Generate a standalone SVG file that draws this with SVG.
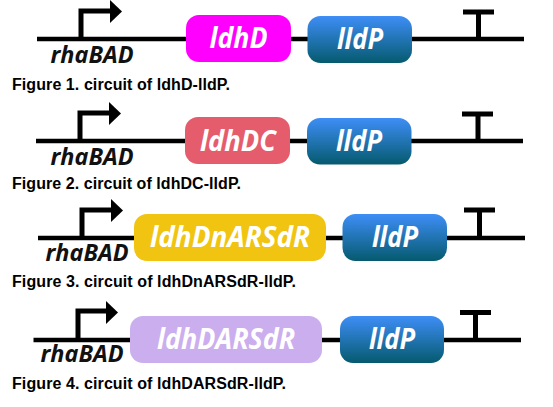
<svg xmlns="http://www.w3.org/2000/svg" width="553" height="407" viewBox="0 0 553 407">
<style>
.l{stroke:#000;stroke-width:4.5;fill:none}
.a{fill:#000}
.b{stroke:#000;stroke-width:5;fill:none}
.g{font:italic 700 28px "Open Sans",sans-serif;fill:#fff;text-anchor:middle}
.p{font:italic 700 23.500px "Open Sans",sans-serif;fill:#111;text-anchor:middle}
.c{font:700 16px "Liberation Sans",Arial,sans-serif;fill:#000}
.u{fill:url(#blue)}
</style>
<defs>
<linearGradient id="blue" x1="0" y1="0" x2="0" y2="1"><stop offset="0" stop-color="#3e8ef7"/><stop offset="1" stop-color="#055a6e"/></linearGradient>
</defs>
<g id="connectors">
<path class="l" d="M37 39H186M291 39H308M412 39H524"/>
<path class="l" d="M36 141H185M290 141H307M411 141H523"/>
<path class="l" d="M38 238H134M326 238H343M447 238H525"/>
<path class="l" d="M33.500 340H130M322 340H340M444 340H521"/>
</g>
<g id="promoter1"><path class="b" d="M81 39V11H111"/><path class="a" d="M110 0L122 11.500L110 23Z"/><text class="p" x="92" y="63" textLength="83" lengthAdjust="spacingAndGlyphs">rhaBAD</text></g>
<g id="ldhD"><rect x="186" y="15" width="105" height="47" rx="13" fill="#ff00ff"/><text class="g" x="238.500" y="48" textLength="58" lengthAdjust="spacingAndGlyphs">ldhD</text></g>
<g id="lldP1"><rect class="u" x="307.500" y="16" width="104.500" height="47" rx="13"/><text class="g" x="360" y="49" textLength="46" lengthAdjust="spacingAndGlyphs">lldP</text></g>
<g id="terminator1"><path class="b" d="M478.500 39V12M463 12H494"/></g>
<text class="c" x="12" y="90" textLength="218">Figure 1. circuit of ldhD-lldP.</text>
<g id="promoter2"><path class="b" d="M80 141V113H110"/><path class="a" d="M109 102L121 113.500L109 125Z"/><text class="p" x="92" y="165" textLength="83" lengthAdjust="spacingAndGlyphs">rhaBAD</text></g>
<g id="ldhDC"><rect x="185" y="117" width="105" height="47" rx="13" fill="#e55c6c"/><text class="g" x="238" y="151" textLength="76" lengthAdjust="spacingAndGlyphs">ldhDC</text></g>
<g id="lldP2"><rect class="u" x="307" y="118" width="104.500" height="46.500" rx="13"/><text class="g" x="359" y="151" textLength="46" lengthAdjust="spacingAndGlyphs">lldP</text></g>
<g id="terminator2"><path class="b" d="M478 141V114M462 114H493"/></g>
<text class="c" x="12" y="189" textLength="229">Figure 2. circuit of ldhDC-lldP.</text>
<g id="promoter3"><path class="b" d="M82 238V210H112"/><path class="a" d="M111 199L123 210.500L111 222Z"/><text class="p" x="87" y="261" textLength="83" lengthAdjust="spacingAndGlyphs">rhaBAD</text></g>
<g id="ldhDnARSdR"><rect x="134" y="214" width="192" height="47" rx="13" fill="#f0c410"/><text class="g" x="230" y="247" textLength="160" lengthAdjust="spacingAndGlyphs">ldhDnARSdR</text></g>
<g id="lldP3"><rect class="u" x="342.500" y="214" width="104.500" height="47" rx="13"/><text class="g" x="395" y="247" textLength="46" lengthAdjust="spacingAndGlyphs">lldP</text></g>
<g id="terminator3"><path class="b" d="M479.500 238V210M464 210H495"/></g>
<text class="c" x="12" y="287" textLength="284">Figure 3. circuit of ldhDnARSdR-lldP.</text>
<g id="promoter4"><path class="b" d="M78 340V311H108"/><path class="a" d="M106 301L118 312.500L106 324Z"/><text class="p" x="82" y="362" textLength="83" lengthAdjust="spacingAndGlyphs">rhaBAD</text></g>
<g id="ldhDARSdR"><rect x="130" y="316" width="192" height="47" rx="13" fill="#cbaeee"/><text class="g" x="226" y="349" textLength="138" lengthAdjust="spacingAndGlyphs">ldhDARSdR</text></g>
<g id="lldP4"><rect class="u" x="340" y="316" width="104" height="47" rx="13"/><text class="g" x="392" y="349" textLength="46" lengthAdjust="spacingAndGlyphs">lldP</text></g>
<g id="terminator4"><path class="b" d="M475.500 340V312M460 312.500H491"/></g>
<text class="c" x="12" y="389" textLength="274">Figure 4. circuit of ldhDARSdR-lldP.</text>
</svg>
